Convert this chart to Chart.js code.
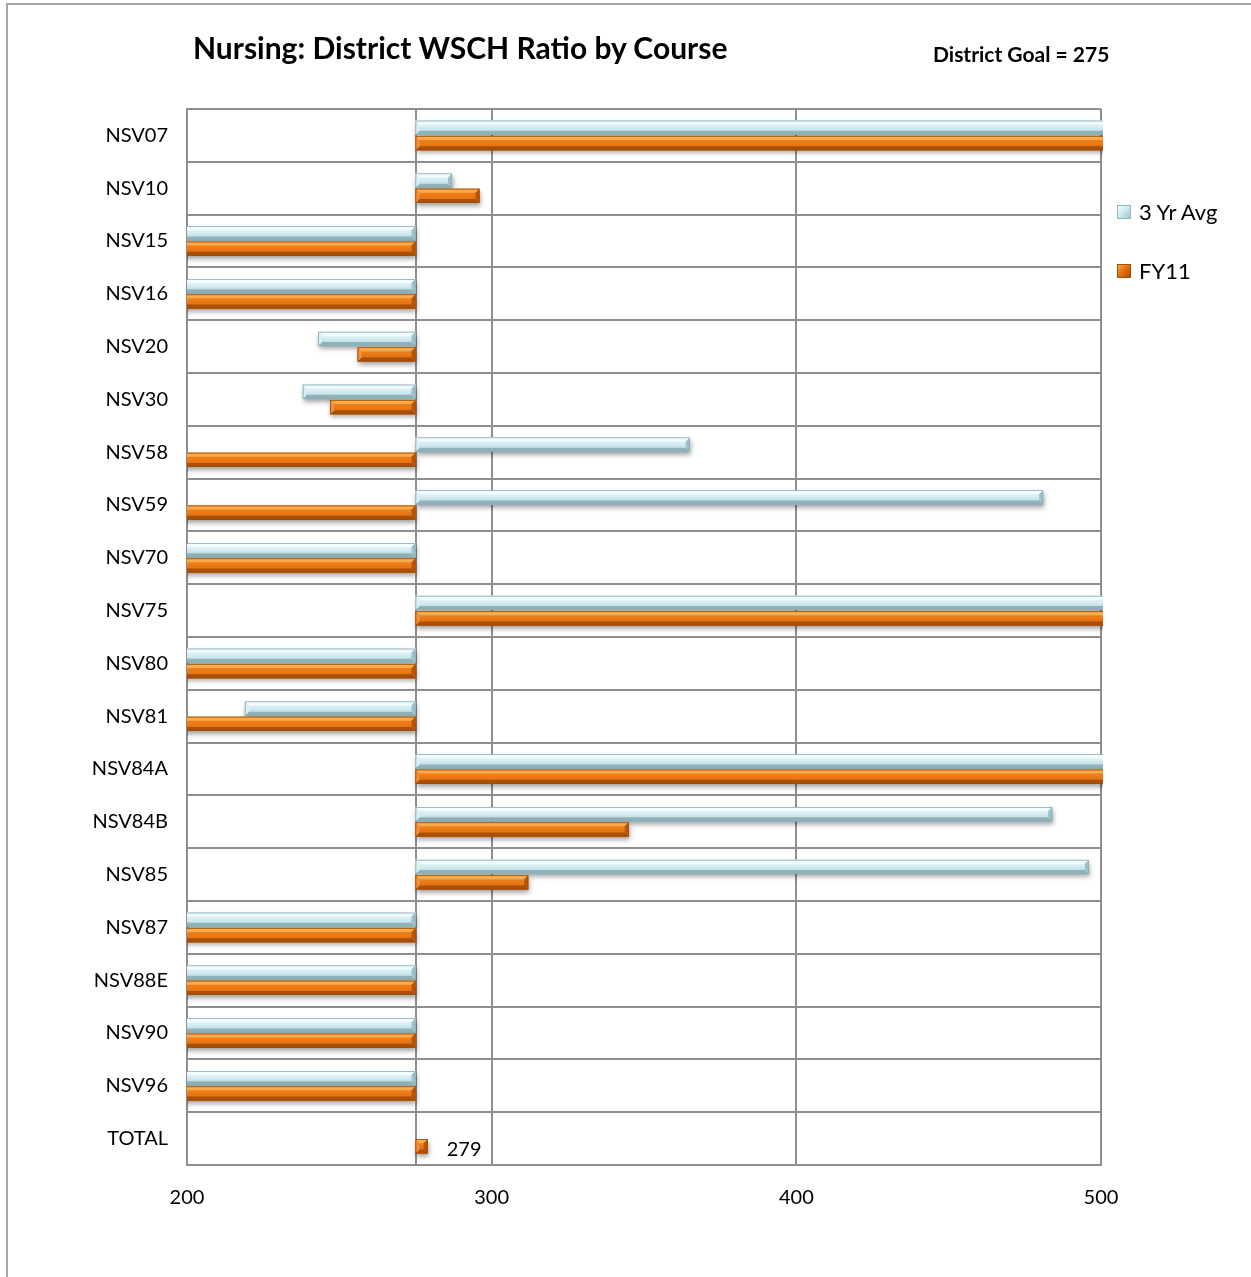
<!DOCTYPE html>
<html>
<head>
<meta charset="utf-8">
<title>Nursing: District WSCH Ratio by Course</title>
<script src="https://cdn.jsdelivr.net/npm/chart.js@4/dist/chart.umd.min.js"></script>
<style>
  html, body { margin: 0; padding: 0; background: #fff; overflow: hidden; }
  #wrap { position: relative; width: 1251px; height: 1277px; }
  #frame { position: absolute; left: 6px; top: 3px; width: 1400px; height: 1400px;
           border: 2px solid #a6a6a6; box-sizing: border-box; }
  canvas { position: absolute; left: 0; top: 0; }
  .txt { position: absolute; font-family: Lato, "DejaVu Sans", sans-serif; color: #000; white-space: nowrap; }
  #title { left: 193px; top: 28px; font-size: 30px; font-weight: bold; line-height: 38px; }
  #goal { left: 933px; top: 41px; font-size: 21px; font-weight: bold; line-height: 26px; }
  .leg { position: absolute; left: 1117px; width: 130px; height: 26px; font-family: Lato, sans-serif;
         font-size: 22px; line-height: 26px; white-space: nowrap; }
  .leg i { position: absolute; left: 0; top: 6px; width: 14px; height: 14px; box-sizing: border-box; }
  .leg span { position: absolute; left: 22px; top: 0; white-space: nowrap; }
  #leg1 { top: 199px; }
  #leg2 { top: 258px; }
  #leg1 i { background: linear-gradient(135deg, #eefafc 0%, #cde8ef 50%, #9cc4ce 100%); border: 1px solid #8fb5bf; }
  #leg2 i { background: linear-gradient(135deg, #f9a94c 0%, #e46c0a 50%, #a9520b 100%); border: 1px solid #a24d08; }
</style>
</head>
<body>
<div id="wrap">
  <div id="frame"></div>
  <canvas id="chart" width="1251" height="1277"></canvas>
  <div id="title" class="txt">Nursing: District WSCH Ratio by Course</div>
  <div id="goal" class="txt">District Goal = 275</div>
  <div id="leg1" class="leg"><i></i><span>3 Yr Avg</span></div>
  <div id="leg2" class="leg"><i></i><span>FY11</span></div>
</div>
<script>
// Courses, top to bottom
const courses = ['NSV07', 'NSV10', 'NSV15', 'NSV16', 'NSV20', 'NSV30', 'NSV58', 'NSV59',
  'NSV70', 'NSV75', 'NSV80', 'NSV81', 'NSV84A', 'NSV84B', 'NSV85', 'NSV87', 'NSV88E',
  'NSV90', 'NSV96', 'TOTAL'];

// WSCH ratio, three-year average
const avg3Yr = [560, 287, 160, 150, 243, 238, 365, 481, 170, 590, 180, 219, 620, 484, 496,
  165, 175, 155, 185, null];

// WSCH ratio, FY11
const fy11 = [540, 296, 150, 140, 256, 247, 170, 160, 150, 610, 170, 160, 640, 345, 312,
  150, 160, 145, 170, 279];

// District goal: bars grow out of this value
const districtGoal = 275;

// Value axis
const axisMin = 200;
const axisMax = 500;
const axisTicks = [200, 300, 400, 500];

const FONT = 'Lato, "DejaVu Sans", sans-serif';
const GRID = '#8e8e8e';

const palettes = {
  blue: { body0: '#f4fcfe', body1: '#b0d7e1', top: '#f3fcfe', bottom: '#8eb2bc',
          left: '#d9eff4', right: '#9cc1ca', edge: '#88acb6' },
  orange: { body0: '#f28a26', body1: '#e06a08', top: '#fbaa4c', bottom: '#a94f09',
            left: '#f2913a', right: '#b6570a', edge: '#9e4b08' }
};

function poly(ctx, pts, color) {
  ctx.beginPath();
  ctx.moveTo(pts[0][0], pts[0][1]);
  for (let i = 1; i < pts.length; i++) ctx.lineTo(pts[i][0], pts[i][1]);
  ctx.closePath();
  ctx.fillStyle = color;
  ctx.fill();
}

// Bevelled bar faces with a soft drop shadow, painted over each bar element
const bevelBars = {
  id: 'bevelBars',
  afterDatasetsDraw(chart) {
    const ctx = chart.ctx;
    const area = chart.chartArea;
    chart.data.datasets.forEach((ds, di) => {
      const meta = chart.getDatasetMeta(di);
      const pal = palettes[ds.palette];
      meta.data.forEach((el, i) => {
        if (ds.data[i] == null) return;
        const p = el.getProps(['x', 'y', 'base', 'height'], true);
        const l = Math.min(p.x, p.base), r = Math.max(p.x, p.base);
        const t = p.y - p.height / 2, b = p.y + p.height / 2;
        const w = r - l, h = b - t;
        if (!(w > 0)) return;
        const bv = Math.min(4, h / 3, w / 2);
        ctx.save();
        ctx.beginPath();
        ctx.rect(area.left, area.top - 2, area.right - area.left + 2, area.bottom - area.top + 4);
        ctx.clip();
        // shadow + body
        ctx.save();
        ctx.shadowColor = 'rgba(0,0,0,0.38)';
        ctx.shadowBlur = 5;
        ctx.shadowOffsetX = 1;
        ctx.shadowOffsetY = 3;
        const g = ctx.createLinearGradient(0, t, 0, b);
        g.addColorStop(0, pal.body0);
        g.addColorStop(1, pal.body1);
        ctx.fillStyle = g;
        ctx.fillRect(l, t, w, h);
        ctx.restore();
        // bevel faces
        poly(ctx, [[l, t], [r, t], [r - bv, t + bv], [l + bv, t + bv]], pal.top);
        poly(ctx, [[l, b], [r, b], [r - bv, b - bv], [l + bv, b - bv]], pal.bottom);
        poly(ctx, [[l, t], [l + bv, t + bv], [l + bv, b - bv], [l, b]], pal.left);
        poly(ctx, [[r, t], [r - bv, t + bv], [r - bv, b - bv], [r, b]], pal.right);
        ctx.strokeStyle = pal.edge;
        ctx.lineWidth = 0.8;
        ctx.strokeRect(l + 0.4, t + 0.4, w - 0.8, h - 0.8);
        ctx.restore();
      });
    });
  }
};

// Value label for the TOTAL bar
const totalLabel = {
  id: 'totalLabel',
  afterDatasetsDraw(chart) {
    const ctx = chart.ctx;
    const di = 1;
    const idx = courses.indexOf('TOTAL');
    const el = chart.getDatasetMeta(di).data[idx];
    const v = fy11[idx];
    if (!el || v == null) return;
    ctx.save();
    ctx.font = '20px ' + FONT;
    ctx.fillStyle = '#000';
    ctx.textAlign = 'left';
    ctx.textBaseline = 'middle';
    ctx.fillText(String(v), el.x + 19, el.y + 3);
    ctx.restore();
  }
};

const toRange = arr => arr.map(v => (v == null ? null : [districtGoal, v]));

new Chart(document.getElementById('chart'), {
  type: 'bar',
  data: {
    labels: courses,
    datasets: [
      { label: '3 Yr Avg', data: toRange(avg3Yr), palette: 'blue',
        backgroundColor: '#b7dde8', borderWidth: 0 },
      { label: 'FY11', data: toRange(fy11), palette: 'orange',
        backgroundColor: '#e46c0a', borderWidth: 0 }
    ]
  },
  options: {
    indexAxis: 'y',
    responsive: false,
    animation: false,
    devicePixelRatio: 1,
    categoryPercentage: 0.58,
    barPercentage: 0.93,
    layout: { padding: { left: 0, right: 150, top: 109, bottom: 0 } },
    plugins: {
      legend: { display: false },
      tooltip: { enabled: false },
      title: { display: false }
    },
    scales: {
      x: {
        type: 'linear',
        min: axisMin,
        max: axisMax,
        afterBuildTicks(scale) {
          scale.ticks = [...axisTicks, districtGoal].sort((a, b) => a - b).map(v => ({ value: v }));
        },
        afterFit(scale) { scale.height = 112; },
        grid: { color: GRID, lineWidth: 2, drawTicks: false },
        border: { color: GRID, width: 2 },
        ticks: {
          autoSkip: false,
          maxRotation: 0,
          padding: 21,
          color: '#000',
          font: { family: FONT, size: 20 },
          callback: v => (axisTicks.includes(v) ? String(v) : '')
        }
      },
      y: {
        type: 'category',
        offset: true,
        afterFit(scale) { scale.width = 187; },
        grid: { color: GRID, lineWidth: 2, drawTicks: false, offset: true },
        border: { color: GRID, width: 2 },
        ticks: {
          padding: 19,
          color: '#000',
          font: { family: FONT, size: 20 }
        }
      }
    }
  },
  plugins: [bevelBars, totalLabel]
});
</script>
</body>
</html>
